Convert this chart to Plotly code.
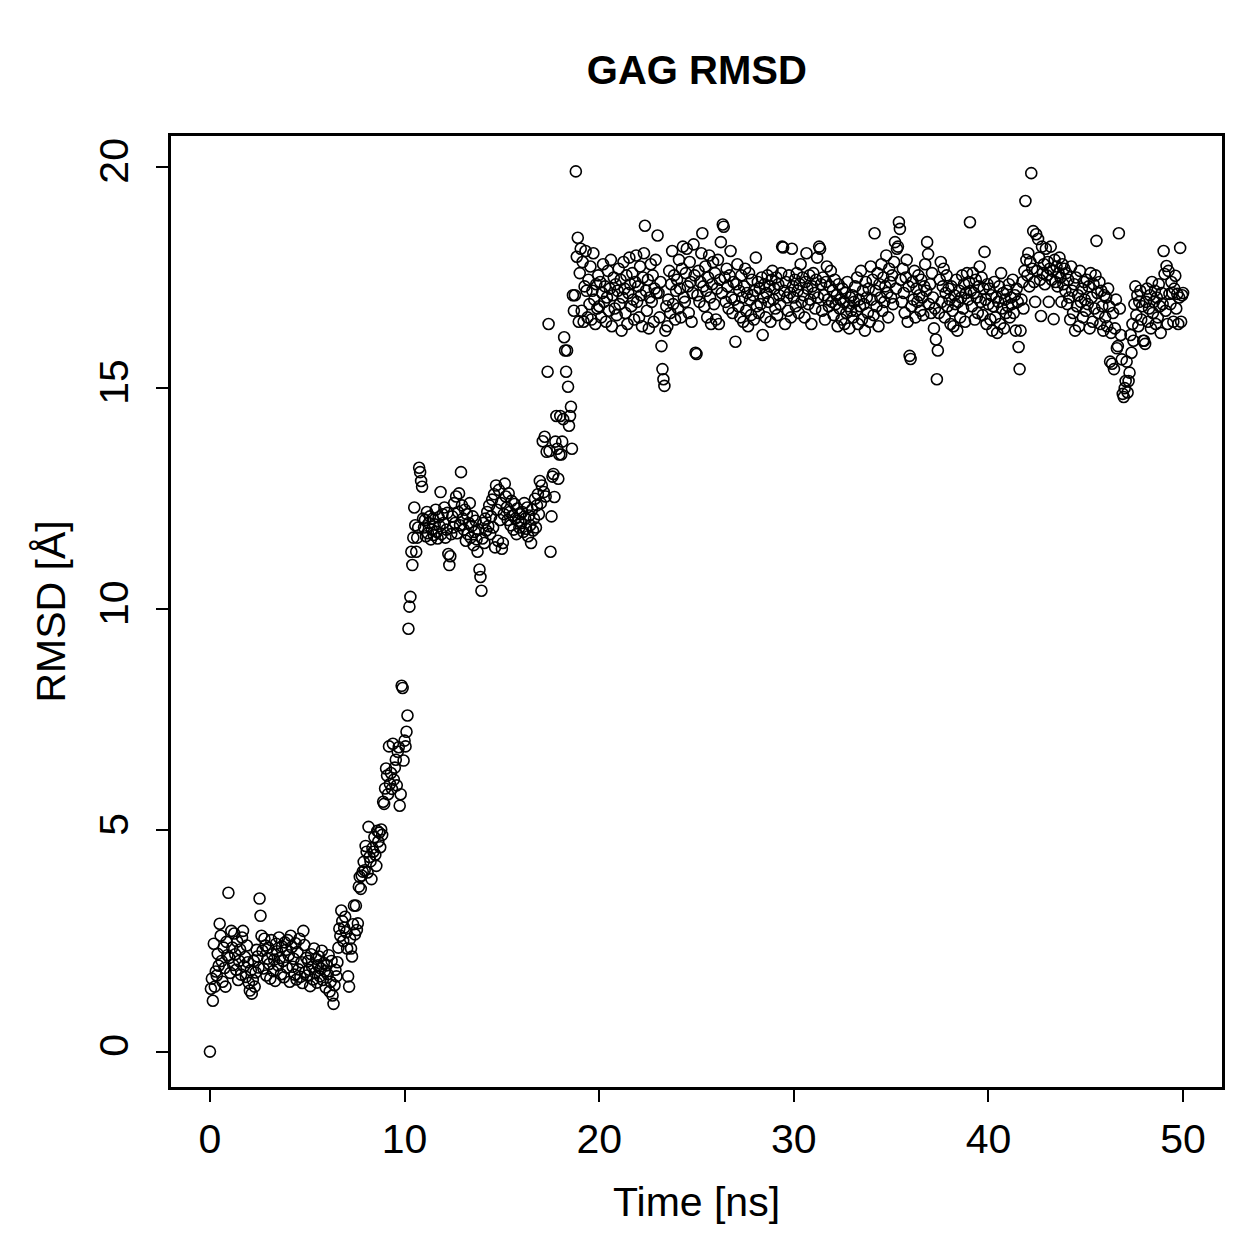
import numpy as np
import plotly.graph_objects as go

# Sampling interval of the trajectory (ns)
dt_ns = 0.05

# RMSD values [Å], one array per 10 ns block (20 samples per ns)
rmsd_00_10 = [
    0.00, 1.42, 1.65, 1.15, 2.44, 1.47, 1.81, 1.72, 2.21, 1.94, 2.89, 2.62, 2.05, 1.58, 2.35, 1.89, 1.47, 2.48, 2.18, 3.59,
    2.12, 1.78, 2.73, 2.35, 1.96, 2.67, 2.20, 1.85, 2.49, 1.62, 2.05, 2.31, 1.74, 2.58, 2.73, 1.93, 2.14, 1.69, 2.40, 2.02,
    1.55, 1.38, 1.84, 1.31, 1.62, 2.05, 1.47, 1.79, 2.30, 2.15, 1.90, 3.46, 3.07, 2.62, 2.28, 1.88, 2.55, 2.40, 1.72, 2.10,
    2.35, 1.98, 1.65, 2.52, 2.20, 1.82, 2.08, 1.60, 2.44, 2.27, 1.95, 2.58, 2.12, 1.75, 2.38, 2.05, 1.68, 2.47, 2.30, 1.90,
    2.52, 2.18, 1.58, 2.62, 2.36, 1.92, 2.10, 1.74, 2.45, 1.63, 2.25, 1.86, 2.55, 1.69, 2.02, 1.55, 2.73, 2.41, 1.80, 2.12,
    1.72, 2.05, 1.85, 1.48, 2.20, 1.92, 1.63, 2.33, 1.78, 2.10, 1.56, 1.95, 2.15, 1.70, 1.88, 2.28, 1.62, 2.00, 1.82, 1.45,
    1.95, 1.75, 2.18, 1.36, 1.58, 2.05, 1.27, 1.08, 1.50, 1.85, 1.70, 2.02, 2.35, 2.78, 2.62, 3.19, 2.95, 2.50, 2.80, 3.05,
    2.70, 2.33, 1.70, 1.47, 2.55, 2.33, 2.15, 2.88, 3.30, 2.65, 3.30, 2.75, 2.90, 3.73, 3.95, 3.68, 3.98, 4.07, 4.29, 4.10,
    4.65, 4.52, 4.05, 5.08, 4.40, 4.30, 3.90, 4.60, 4.52, 4.85, 4.45, 4.20, 4.99, 4.75, 4.95, 4.62, 5.02, 4.90, 5.65, 5.60,
    5.95, 6.40, 6.24, 5.82, 6.90, 6.05, 6.30, 5.94, 6.96, 6.15, 6.42, 6.60, 6.02, 6.78, 6.88, 5.56, 5.82, 8.27, 8.22, 6.58,
]

rmsd_10_20 = [
    7.03, 6.90, 7.23, 7.60, 9.56, 10.06, 10.28, 11.30, 11.00, 11.62, 12.30, 11.90, 11.30, 11.62, 11.85, 13.20, 13.10, 12.90, 12.77, 12.05,
    11.85, 12.02, 11.65, 12.20, 11.72, 11.95, 12.10, 11.58, 11.80, 12.05, 11.68, 11.92, 12.25, 11.75, 11.60, 12.08, 11.88, 12.65, 11.70, 12.15,
    11.95, 12.30, 11.62, 11.80, 12.18, 11.25, 11.00, 11.20, 11.70, 12.10, 11.85, 12.40, 11.95, 12.55, 11.72, 12.20, 12.62, 11.90, 13.10, 12.35,
    12.05, 11.80, 12.25, 11.55, 12.15, 11.70, 11.95, 12.40, 11.62, 11.88, 12.10, 11.45, 11.75, 12.00, 11.58, 11.30, 11.80, 10.90, 10.73, 10.42,
    11.60, 11.95, 11.50, 12.05, 11.78, 12.20, 11.88, 12.35, 11.70, 12.10, 12.48, 11.85, 12.60, 11.40, 12.80, 12.25, 11.55, 12.70, 12.02, 12.40,
    11.37, 11.50, 12.15, 12.84, 12.55, 12.30, 12.02, 12.62, 12.20, 11.90, 12.45, 12.12, 11.80, 12.38, 12.05, 11.70, 12.28, 12.00, 11.85, 12.15,
    11.95, 12.20, 11.75, 12.40, 12.05, 11.82, 12.30, 11.65, 12.12, 11.90, 11.50, 12.25, 11.78, 12.05, 12.50, 11.85, 12.35, 12.60, 12.15, 12.90,
    12.40, 12.80, 13.80, 12.65, 13.90, 12.55, 13.56, 15.37, 16.45, 13.58, 11.30, 12.10, 13.00, 13.06, 12.54, 13.79, 14.37, 13.63, 12.95, 13.50,
    14.37, 13.50, 13.79, 14.30, 16.15, 15.85, 15.37, 15.85, 15.03, 14.15, 14.37, 14.58, 13.63, 17.10, 16.75, 17.10, 19.90, 17.97, 18.40, 16.50,
    17.60, 18.15, 16.75, 17.85, 16.50, 17.30, 18.10, 17.20, 16.60, 17.45, 16.90, 17.75, 16.55, 17.20, 18.05, 17.00, 16.45, 17.35, 16.80, 17.55,
]

rmsd_20_30 = [
    16.85, 17.40, 16.60, 17.15, 17.80, 16.95, 17.30, 16.50, 17.05, 17.65, 16.75, 17.25, 17.90, 16.40, 17.10, 17.50, 16.80, 17.35, 16.65, 17.20,
    17.70, 16.90, 17.45, 16.30, 17.05, 17.85, 17.25, 16.70, 17.55, 16.45, 17.15, 17.95, 17.35, 16.85, 17.60, 17.00, 16.55, 17.40, 18.00, 16.95,
    17.30, 16.60, 17.75, 17.10, 16.40, 17.50, 18.05, 18.67, 17.20, 16.75, 17.45, 16.35, 17.05, 17.80, 16.95, 17.55, 16.50, 17.25, 17.90, 17.15,
    18.45, 17.15, 16.60, 17.40, 15.95, 15.43, 15.20, 15.05, 16.30, 16.85, 16.40, 17.00, 17.65, 16.70, 17.35, 18.10, 16.90, 17.55, 16.55, 17.20,
    17.45, 16.80, 17.90, 17.25, 16.60, 17.70, 18.20, 17.05, 16.95, 17.60, 18.15, 17.30, 16.70, 17.85, 17.40, 16.50, 17.15, 18.25, 17.55, 15.80,
    15.77, 17.10, 17.65, 16.95, 17.40, 18.05, 18.50, 17.30, 16.85, 17.75, 17.20, 16.60, 17.50, 18.00, 17.05, 16.45, 17.35, 17.85, 16.90, 17.60,
    16.55, 17.25, 17.90, 16.45, 17.45, 18.30, 17.15, 18.70, 18.65, 17.50, 16.95, 17.70, 17.30, 16.80, 17.55, 18.10, 17.05, 16.70, 17.40, 17.00,
    16.05, 17.35, 17.80, 16.85, 17.20, 16.60, 17.55, 17.05, 16.50, 17.30, 17.70, 16.75, 17.15, 16.40, 17.60, 17.00, 16.65, 17.45, 17.10, 16.55,
    17.20, 17.95, 16.85, 17.40, 16.70, 17.25, 16.90, 17.50, 16.20, 17.05, 17.35, 16.60, 17.15, 17.55, 16.95, 17.30, 16.50, 17.45, 17.65, 17.00,
    17.25, 16.80, 17.50, 16.65, 17.35, 17.10, 16.90, 17.60, 18.20, 18.18, 17.20, 16.45, 17.40, 17.05, 16.75, 17.55, 17.15, 16.60, 18.15, 17.30,
]

rmsd_30_40 = [
    17.05, 17.45, 16.85, 17.60, 17.20, 16.70, 17.35, 17.80, 16.95, 17.50, 17.10, 16.60, 17.40, 18.05, 17.25, 16.90, 17.55, 17.00, 16.45, 17.30,
    17.60, 17.15, 16.80, 17.45, 17.95, 17.05, 18.20, 18.15, 17.35, 16.75, 17.50, 17.10, 16.55, 17.40, 17.75, 17.00, 16.85, 17.30, 17.65, 16.95,
    17.20, 16.65, 17.45, 16.90, 17.10, 16.40, 17.35, 16.80, 17.00, 16.55, 17.25, 16.95, 16.45, 17.15, 16.70, 17.40, 16.85, 16.35, 17.05, 16.75,
    17.10, 16.60, 16.95, 17.30, 16.75, 17.50, 16.45, 17.00, 16.85, 17.65, 16.55, 17.20, 16.90, 16.30, 17.40, 17.05, 16.70, 17.25, 16.50, 17.75,
    17.00, 17.45, 16.65, 18.50, 17.20, 16.85, 17.60, 16.40, 17.35, 17.05, 17.80, 16.75, 17.50, 16.95, 17.30, 18.00, 17.15, 16.60, 17.70, 17.40,
    17.05, 17.55, 16.90, 17.85, 18.30, 17.25, 18.15, 18.20, 18.75, 18.60, 17.45, 16.95, 17.70, 17.15, 16.70, 17.50, 17.90, 16.50, 17.30, 15.73,
    15.66, 16.85, 17.40, 17.00, 17.65, 16.60, 17.25, 16.95, 17.55, 17.10, 16.75, 17.45, 17.05, 16.65, 17.30, 17.80, 17.20, 18.30, 18.03, 16.90,
    17.35, 16.70, 17.60, 17.05, 16.35, 16.80, 16.10, 15.20, 15.85, 16.70, 17.45, 17.85, 16.95, 17.30, 17.70, 16.60, 17.15, 17.55, 16.85, 17.25,
    17.00, 16.45, 17.30, 16.75, 16.40, 17.10, 16.90, 17.45, 16.30, 16.95, 17.20, 16.60, 17.05, 17.55, 16.80, 17.35, 16.50, 17.15, 17.60, 17.00,
    17.40, 18.75, 17.20, 16.85, 17.60, 17.15, 16.55, 17.45, 17.05, 16.70, 17.30, 17.75, 16.95, 17.50, 16.65, 17.25, 18.08, 17.00, 16.45, 17.35,
]

rmsd_40_50 = [
    16.90, 17.25, 16.55, 17.10, 16.30, 16.85, 17.40, 16.60, 17.05, 16.25, 16.95, 17.30, 16.45, 17.60, 16.80, 17.15, 16.35, 17.00, 16.70, 17.20,
    16.85, 17.35, 16.60, 17.05, 16.90, 17.45, 16.70, 17.10, 16.30, 17.25, 16.95, 15.93, 15.43, 16.30, 17.00, 17.40, 16.80, 17.65, 19.23, 17.90,
    17.55, 18.05, 17.30, 17.85, 19.86, 17.70, 18.55, 17.40, 16.95, 18.48, 17.65, 18.37, 17.95, 17.45, 16.63, 18.20, 17.60, 17.80, 17.35, 18.15,
    17.55, 17.85, 16.95, 17.70, 18.20, 17.45, 17.65, 16.56, 17.90, 17.40, 17.75, 17.30, 17.60, 17.95, 17.50, 16.95, 17.80, 17.35, 17.70, 17.20,
    17.60, 16.90, 17.45, 17.05, 16.55, 17.75, 17.20, 16.70, 17.35, 16.30, 17.50, 16.85, 17.10, 16.40, 17.65, 16.95, 17.25, 16.60, 17.40, 17.00,
    16.75, 17.45, 16.90, 17.30, 16.35, 17.60, 17.05, 16.50, 17.35, 16.80, 17.55, 18.33, 17.15, 16.70, 17.40, 16.45, 17.20, 16.85, 16.30, 17.10,
    16.60, 17.05, 16.40, 17.25, 16.85, 15.60, 16.25, 15.55, 16.70, 15.43, 16.35, 17.00, 15.90, 15.95, 18.50, 16.80, 16.20, 15.65, 14.87, 14.80,
    15.00, 15.16, 15.60, 14.90, 15.16, 15.35, 16.20, 15.80, 16.45, 16.07, 16.90, 17.30, 16.65, 17.10, 16.40, 16.95, 17.20, 16.55, 16.85, 16.07,
    16.07, 16.00, 16.95, 17.25, 16.50, 16.80, 17.10, 16.35, 17.40, 16.70, 16.95, 17.20, 16.45, 17.05, 16.60, 17.35, 16.85, 16.25, 17.15, 16.90,
    18.10, 17.58, 16.75, 17.76, 16.45, 17.65, 17.13, 16.90, 17.40, 17.15, 16.50, 17.25, 17.54, 16.80, 17.13, 16.45, 17.05, 18.17, 16.50, 17.10,
    17.15,
]

x_ticks = [0, 10, 20, 30, 40, 50]
y_ticks = [0, 5, 10, 15, 20]

title_text = "GAG RMSD"
x_label = "Time [ns]"
y_label = "RMSD [Å]"

rmsd = np.array(rmsd_00_10 + rmsd_10_20 + rmsd_20_30 + rmsd_30_40 + rmsd_40_50)
time_ns = np.arange(len(rmsd)) * dt_ns

FONT = "Liberation Sans, Arial, Helvetica, sans-serif"
LABEL_SIZE = 41

fig = go.Figure(
    go.Scatter(
        x=time_ns,
        y=rmsd,
        mode="markers",
        marker=dict(symbol="circle-open", size=11, color="black",
                    line=dict(width=1.6, color="black")),
        showlegend=False,
        hoverinfo="x+y",
    )
)

axis_common = dict(
    showline=True, linecolor="black", linewidth=2.5, mirror=True,
    ticks="outside", ticklen=12, tickwidth=2.2, tickcolor="black",
    showgrid=False, zeroline=False,
    tickfont=dict(family=FONT, size=LABEL_SIZE, color="black"),
)

fig.update_layout(
    width=1259, height=1259,
    margin=dict(l=171, r=37, t=136, b=172),
    paper_bgcolor="white", plot_bgcolor="white",
    font=dict(family=FONT, color="black"),
    title=dict(text="<b>" + title_text + "</b>", x=0.5535, xanchor="center",
               y=1 - 70 / 1259, yref="container", yanchor="middle",
               font=dict(family=FONT, size=40, color="black")),
    xaxis=dict(range=[-2, 52], tickvals=x_ticks, ticklabelstandoff=2, **axis_common),
    yaxis=dict(range=[-0.8, 20.7], tickvals=y_ticks, tickangle=-90, ticklabelstandoff=12, **axis_common),
    annotations=[
        dict(text=x_label, xref="paper", yref="paper", x=0.5, y=(1087 - 1202) / 951,
             xanchor="center", yanchor="middle", showarrow=False,
             font=dict(family=FONT, size=LABEL_SIZE, color="black")),
        dict(text=y_label, xref="paper", yref="paper", x=(50 - 171) / 1051, y=0.5,
             xanchor="center", yanchor="middle", showarrow=False, textangle=-90,
             font=dict(family=FONT, size=LABEL_SIZE, color="black")),
    ],
)

fig.write_html("out.html")
